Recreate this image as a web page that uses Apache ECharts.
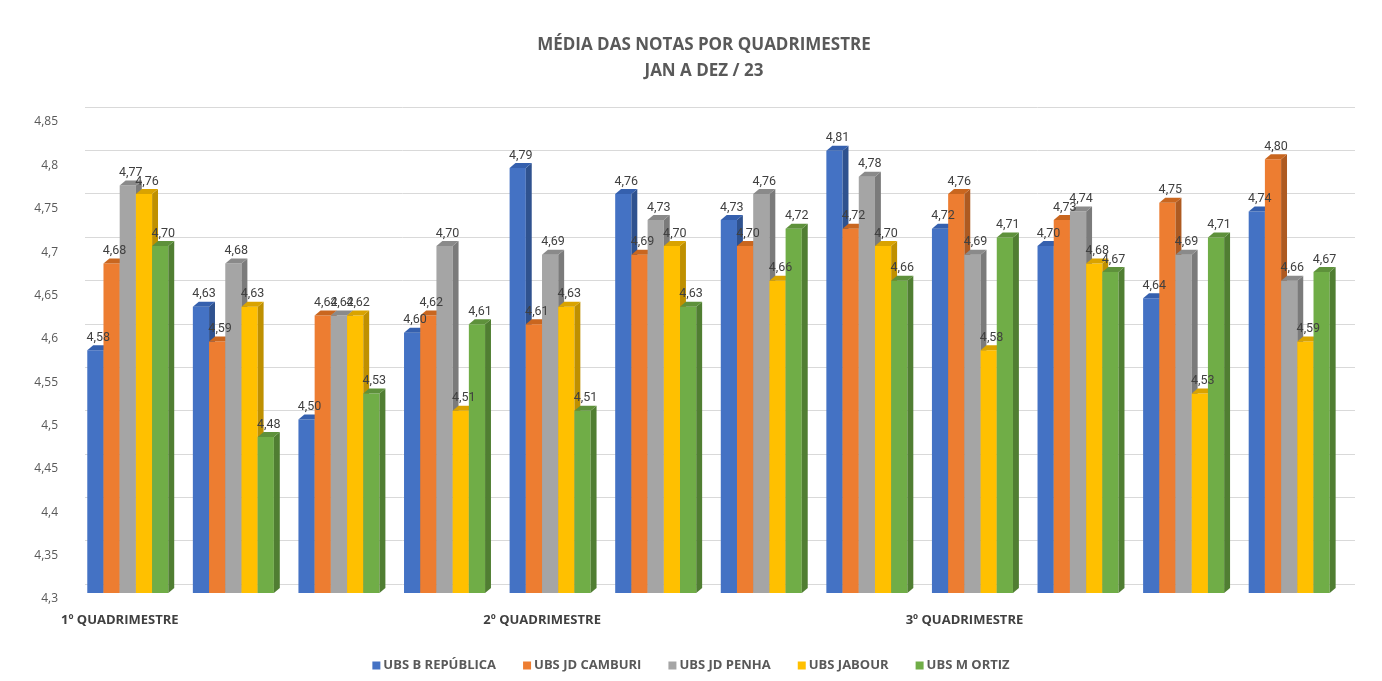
<!DOCTYPE html>
<html>
<head>
<meta charset="utf-8">
<title>Média das notas por quadrimestre</title>
<script src="https://cdn.jsdelivr.net/npm/echarts@6/dist/echarts.min.js"></script>
<style>
    html, body { margin: 0; padding: 0; background: #fff; }
    #chart_con { width: 1382px; height: 681px; }
</style>
</head>
<body>
<div id="chart_con"></div>
<script>
// categorias (meses) - so 3 levam rotulo
var categories = ['1º QUADRIMESTRE', '', '', '', '2º QUADRIMESTRE', '', '', '', '3º QUADRIMESTRE', '', '', ''];
var seriesNames = ['UBS B REPÚBLICA', 'UBS JD CAMBURI', 'UBS JD PENHA', 'UBS JABOUR', 'UBS M ORTIZ'];
var republica = [4.58, 4.63, 4.50, 4.60, 4.79, 4.76, 4.73, 4.81, 4.72, 4.70, 4.64, 4.74];
var camburi   = [4.68, 4.59, 4.62, 4.62, 4.61, 4.69, 4.70, 4.72, 4.76, 4.73, 4.75, 4.80];
var penha     = [4.77, 4.68, 4.62, 4.70, 4.69, 4.73, 4.76, 4.78, 4.69, 4.74, 4.69, 4.66];
var jabour    = [4.76, 4.63, 4.62, 4.51, 4.63, 4.70, 4.66, 4.70, 4.58, 4.68, 4.53, 4.59];
var mortiz    = [4.70, 4.48, 4.53, 4.61, 4.51, 4.63, 4.72, 4.66, 4.71, 4.67, 4.71, 4.67];
var yMin = 4.3, yMax = 4.85, yStep = 0.05;

var seriesValues = [republica, camburi, penha, jabour, mortiz];
// frente / lateral / topo
var colors = [
    {front: '#4472C4', side: '#2F528F', top: '#3560AE'},
    {front: '#ED7D31', side: '#AE5A21', top: '#C9661F'},
    {front: '#A5A5A5', side: '#7B7B7B', top: '#8A8A8A'},
    {front: '#FFC000', side: '#BF9000', top: '#D9A300'},
    {front: '#70AD47', side: '#507E32', top: '#5E913B'}
];
var fontFam = '"Open Sans", sans-serif';

function fmt(v) {
    return v.toFixed(2).replace('.', ',');
}

function renderBar(params, api) {
    var si = params.seriesIndex;
    var cat = api.value(0), val = api.value(1);
    var top = api.coord([cat, val]);
    var base = api.coord([cat, yMin]);
    var cw = api.size([1, 0])[0];
    var bw = cw * 0.1535, dx = cw * 0.056, dy = 5;
    var x0 = top[0] - bw * 2.5 + bw * si;
    var x1 = x0 + bw;
    var yt = top[1], yb = base[1];
    var c = colors[si];
    return {
        type: 'group',
        children: [
            {type: 'rect', shape: {x: x0, y: yt, width: bw, height: yb - yt}, style: {fill: c.front}},
            {type: 'polygon', shape: {points: [[x1, yt], [x1 + dx, yt - dy], [x1 + dx, yb - dy], [x1, yb]]}, style: {fill: c.side}},
            {type: 'polygon', shape: {points: [[x0, yt], [x0 + dx, yt - dy], [x1 + dx, yt - dy], [x1, yt]]}, style: {fill: c.top}},
            // rotulo sempre por cima das barras
            {type: 'text', z2: 100, x: (x0 + x1) / 2 + dx / 2, y: yt - dy - 1,
                style: {text: fmt(val), align: 'center', verticalAlign: 'bottom', fill: '#404040',
                    font: '12.5px Roboto, sans-serif'}}
        ]
    };
}

var series = seriesNames.map(function (name, i) {
    return {
        name: name,
        type: 'custom',
        xAxisIndex: 0,
        yAxisIndex: 0,
        renderItem: renderBar,
        itemStyle: {color: colors[i].front},
        encode: {x: 0, y: 1},
        data: seriesValues[i].map(function (v, k) { return [k, v]; })
    };
});

var chart = echarts.init(document.getElementById('chart_con'));
var option = {
    backgroundColor: '#fff',
    animation: false,
    title: {
        text: 'MÉDIA DAS NOTAS POR QUADRIMESTRE\nJAN A DEZ / 23',
        left: 699,
        top: 27,
        textAlign: 'center',
        textStyle: {
            fontFamily: fontFam,
            fontSize: 17,
            fontWeight: 'bold',
            color: '#595959',
            lineHeight: 26
        }
    },
    legend: {
        data: seriesNames,
        left: 'center',
        top: 654,
        icon: 'rect',
        itemWidth: 8,
        itemHeight: 8,
        itemGap: 27,
        textStyle: {fontFamily: fontFam, fontSize: 13, fontWeight: 'bold', color: '#595959', padding: [0, 0, 0, -2]}
    },
    grid: [
        {left: 75, right: 40, top: 116, bottom: 88},
        {left: 85, right: 27, top: 107, bottom: 97}
    ],
    xAxis: [
        {
            type: 'category',
            gridIndex: 0,
            data: categories,
            axisLine: {show: false},
            axisTick: {show: false},
            axisLabel: {
                interval: 0,
                margin: 21,
                padding: [0, 16, 0, 0],
                fontFamily: fontFam,
                fontSize: 13,
                fontWeight: 'bold',
                color: '#404040'
            }
        },
        {type: 'value', gridIndex: 1, min: 0, max: 1, show: false}
    ],
    yAxis: [
        {
            type: 'value',
            gridIndex: 0,
            min: yMin,
            max: yMax,
            interval: yStep,
            axisLine: {show: false},
            axisTick: {show: false},
            splitLine: {show: false},
            axisLabel: {
                margin: 17,
                verticalAlign: 'top',
                fontFamily: fontFam,
                fontSize: 12,
                color: '#595959',
                formatter: function (v) {
                    return (+v.toFixed(2)).toString().replace('.', ',');
                }
            }
        },
        {
            type: 'value',
            gridIndex: 1,
            min: yMin,
            max: yMax,
            interval: yStep,
            axisLine: {show: false},
            axisTick: {show: false},
            axisLabel: {show: false},
            splitLine: {lineStyle: {color: '#D9D9D9', width: 1}}
        }
    ],
    series: series
};
chart.setOption(option);
window.addEventListener('resize', function () {
    chart.resize();
});
</script>
</body>
</html>
